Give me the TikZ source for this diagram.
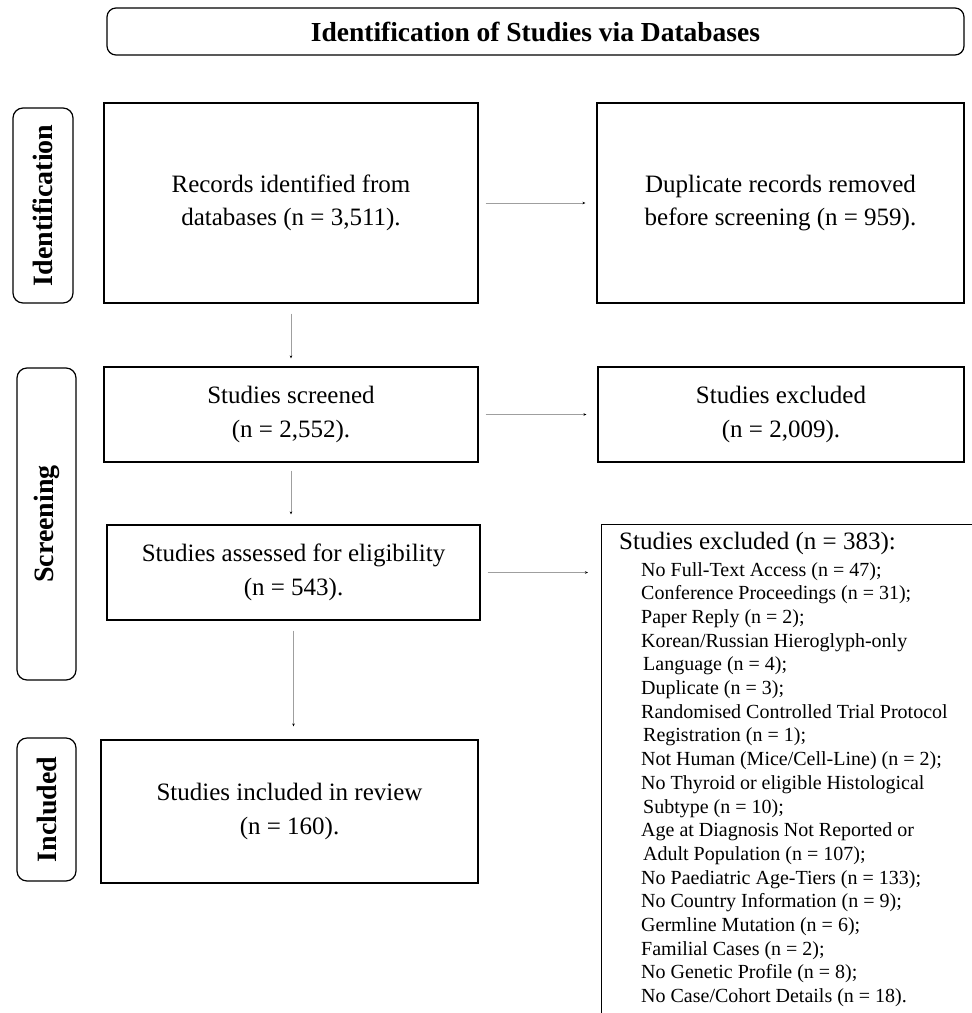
\documentclass[tikz,border=0pt]{standalone}
\usepackage{fontspec}
\setmainfont{Liberation Serif}
\usetikzlibrary{positioning}
\usetikzlibrary{arrows.meta}

\tikzset{
  box/.style={draw, line width=1.2pt, align=center, inner sep=0pt,
    font=\fontsize{25}{33.5}\selectfont},
  phase/.style={draw, line width=1.2pt, rounded corners=10pt, rotate=90,
    inner sep=0pt, font=\bfseries\fontsize{28}{30}\selectfont},
  flow/.style={draw=gray!75, line width=0.9pt,
    -{Stealth[length=3pt,width=2.5pt,black]}},
}

\begin{document}
\begin{tikzpicture}[x=1pt, y=-1pt]
  \useasboundingbox (0,0) rectangle (972,1013);

  \node[box, rounded corners=9pt, minimum width=857pt, minimum height=47pt,
    font=\bfseries\fontsize{27.5}{30}\selectfont] (title) at (535.5,31.5)
    {Identification of Studies via Databases};

  % phases
  \node[phase, minimum width=195pt, minimum height=60pt] (ident) at (43,205.5) {Identification};
  \node[phase, minimum width=312pt, minimum height=59pt] (screen) at (46.5,524) {Screening};
  \node[phase, minimum width=143pt, minimum height=59pt] (incl) at (46.5,809.5) {Included};

  % main column
  \node[box, minimum width=374pt, minimum height=200pt] (records) at (291,203)
    {Records identified from\\databases (n = 3,511).};
  \node[box, minimum width=374pt, minimum height=95pt] (screened) at (291,414.5)
    {Studies screened\\(n = 2,552).};
  \node[box, minimum width=373pt, minimum height=95pt] (eligible) at (293.5,572.5)
    {Studies assessed for eligibility\\(n = 543).};
  \node[box, minimum width=377pt, minimum height=143pt] (included) at (289.5,811.5)
    {Studies included in review\\(n = 160).};

  % side column
  \node[box, minimum width=367pt, minimum height=200pt] (duplicates) at (780.5,203)
    {Duplicate records removed\\before screening (n = 959).};
  \node[box, minimum width=366pt, minimum height=95pt] (excluded) at (781,414.5)
    {Studies excluded\\(n = 2,009).};
  \node[draw, line width=1.2pt, minimum width=420pt, minimum height=520pt,
    anchor=north west] (reasonsbox) at (601,524) {};
  \node[anchor=base west, inner sep=0pt, font=\fontsize{25}{28}\selectfont]
    (reasonshead) at (619,549) {Studies excluded (n = 383):};
  \node[anchor=north west, align=left, inner sep=0pt,
    font=\fontsize{20}{23.7}\selectfont] (reasons) at (641,562)
    {No Full-Text Access (n = 47);\\
     Conference Proceedings (n = 31);\\
     Paper Reply (n = 2);\\
     Korean/Russian Hieroglyph-only\\
     \hspace*{2pt}Language (n = 4);\\
     Duplicate (n = 3);\\
     Randomised Controlled Trial Protocol\\
     \hspace*{2pt}Registration (n = 1);\\
     Not Human (Mice/Cell-Line) (n = 2);\\
     No Thyroid or eligible Histological\\
     \hspace*{2pt}Subtype (n = 10);\\
     Age at Diagnosis Not Reported or\\
     \hspace*{2pt}Adult Population (n = 107);\\
     No Paediatric Age-Tiers (n = 133);\\
     No Country Information (n = 9);\\
     Germline Mutation (n = 6);\\
     Familial Cases (n = 2);\\
     No Genetic Profile (n = 8);\\
     No Case/Cohort Details (n = 18).};

  % arrows
  \draw[flow, xshift=-3pt, shorten <=10pt, shorten >=8pt] (records.south) -- (screened.north);
  \draw[flow, xshift=-3pt, shorten <=8pt, shorten >=10pt] (screened.south) -- (screened.south |- eligible.north);
  \draw[flow, xshift=-6pt, shorten <=10pt, shorten >=13pt] (eligible.south) -- (eligible.south |- included.north);
  \draw[flow, shorten <=7pt, shorten >=11pt] (records.east) -- (duplicates.west);
  \draw[flow, shorten <=7pt, shorten >=11pt] (screened.east) -- (excluded.west);
  \draw[flow, shorten <=7pt, shorten >=13pt] (eligible.east) -- (eligible.east -| reasonsbox.west);
\end{tikzpicture}
\end{document}
